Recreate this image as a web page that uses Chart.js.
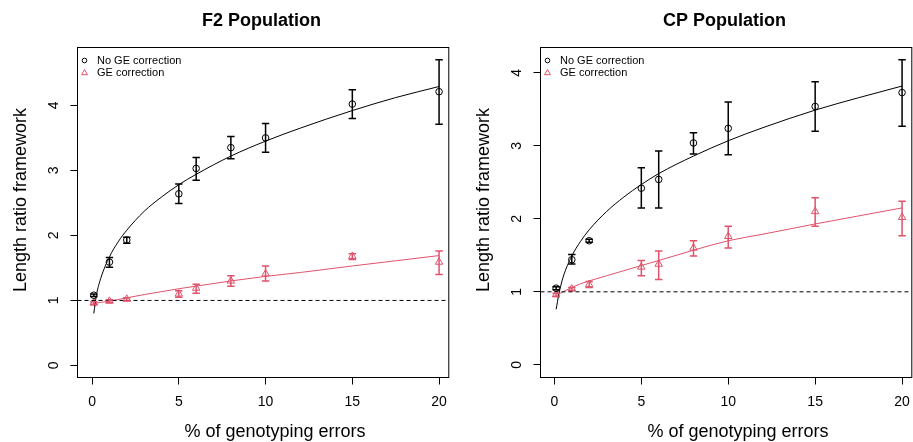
<!DOCTYPE html>
<html>
<head>
<meta charset="utf-8">
<script src="https://cdn.jsdelivr.net/npm/chart.js@4.4.1/dist/chart.umd.min.js"></script>
<style>
  html, body { margin: 0; padding: 0; background: #fff; overflow: hidden; }
  #wrap { position: relative; width: 913px; height: 442px; overflow: hidden; }
  canvas { position: absolute; top: 0; }
</style>
</head>
<body>
<div id="wrap">
  <canvas id="f2Chart" width="456" height="442" style="left:0px"></canvas>
  <canvas id="cpChart" width="456" height="442" style="left:463px"></canvas>
</div>
<script>
// % genotyping errors simulated
const errorRates = [0.1, 1, 2, 5, 6, 8, 10, 15, 20];
const xTicks = [0, 5, 10, 15, 20];
const yTicks = [0, 1, 2, 3, 4];
const refRatio = 1;

// F2 population
const f2NoGE     = [1.08, 1.59, 1.93, 2.64, 3.03, 3.35, 3.50, 4.02, 4.21];
const f2NoGELow  = [1.06, 1.51, 1.88, 2.49, 2.85, 3.18, 3.28, 3.80, 3.71];
const f2NoGEHigh = [1.10, 1.66, 1.97, 2.79, 3.20, 3.52, 3.72, 4.24, 4.70];
const f2GE       = [0.96, 0.99, 1.02, 1.10, 1.19, 1.30, 1.41, 1.68, 1.59];
const f2GELow    = [0.94, 0.97, 1.00, 1.05, 1.11, 1.22, 1.30, 1.63, 1.40];
const f2GEHigh   = [0.98, 1.01, 1.04, 1.15, 1.25, 1.38, 1.53, 1.72, 1.76];

// CP population
const cpNoGE     = [1.05, 1.44, 1.70, 2.42, 2.54, 3.04, 3.24, 3.54, 3.73];
const cpNoGELow  = [1.03, 1.38, 1.68, 2.15, 2.15, 2.89, 2.88, 3.20, 3.27];
const cpNoGEHigh = [1.07, 1.51, 1.72, 2.70, 2.93, 3.18, 3.60, 3.88, 4.18];
const cpGE       = [0.96, 1.04, 1.10, 1.34, 1.38, 1.60, 1.76, 2.10, 2.02];
const cpGELow    = [0.94, 1.02, 1.06, 1.22, 1.17, 1.49, 1.60, 1.90, 1.77];
const cpGEHigh   = [0.98, 1.06, 1.14, 1.43, 1.56, 1.70, 1.90, 2.29, 2.24];

// fitted curves
const curveX       = [0.1, 0.25, 0.5, 1, 1.5, 2, 3, 4, 5, 6, 8, 10, 12, 15, 17.5, 20];
const f2NoGECurve  = [0.80, 1.08, 1.34, 1.67, 1.90, 2.08, 2.37, 2.59, 2.78, 2.94, 3.22, 3.45, 3.65, 3.92, 4.12, 4.29];
const f2GECurve    = [0.95, 0.96, 0.97, 0.99, 1.015, 1.04, 1.09, 1.135, 1.18, 1.22, 1.30, 1.37, 1.43, 1.53, 1.61, 1.69];
const cpNoGECurve  = [0.76, 0.96, 1.20, 1.49, 1.69, 1.85, 2.10, 2.30, 2.47, 2.62, 2.86, 3.07, 3.25, 3.49, 3.66, 3.82];
const cpGECurve    = [0.94, 0.97, 1.00, 1.06, 1.11, 1.15, 1.22, 1.29, 1.36, 1.43, 1.57, 1.70, 1.79, 1.93, 2.04, 2.15];

const rRed = '#DF536B';
const fontFam = '"Liberation Sans", Arial, Helvetica, sans-serif';
Chart.defaults.font.family = fontFam;
Chart.defaults.color = '#000';

const rStyle = {
  id: 'rStyle',
  afterDatasetsDraw(chart, args, opts) {
    const ctx = chart.ctx;
    const xs = chart.scales.x, ys = chart.scales.y;
    const a = chart.chartArea;
    ctx.save();

    // error bars
    chart.data.datasets.forEach(ds => {
      if (!ds.errLow) return;
      ctx.strokeStyle = ds.borderColor;
      ctx.lineWidth = 1.5;
      ds.data.forEach((p, i) => {
        const px = xs.getPixelForValue(p.x);
        const lo = ys.getPixelForValue(ds.errLow[i]);
        const hi = ys.getPixelForValue(ds.errHigh[i]);
        ctx.beginPath();
        ctx.moveTo(px, lo); ctx.lineTo(px, hi);
        ctx.moveTo(px - 3.7, lo); ctx.lineTo(px + 3.7, lo);
        ctx.moveTo(px - 3.7, hi); ctx.lineTo(px + 3.7, hi);
        ctx.stroke();
      });
    });

    // box
    ctx.strokeStyle = '#000';
    ctx.lineWidth = 1;
    ctx.strokeRect(a.left, a.top, a.right - a.left, a.bottom - a.top);

    // y tick labels, rotated like R
    ctx.fillStyle = '#000';
    ctx.font = '14px ' + fontFam;
    ctx.textAlign = 'center';
    ctx.textBaseline = 'middle';
    ys.ticks.forEach(t => {
      ctx.save();
      ctx.translate(a.left - 23.5, ys.getPixelForValue(t.value));
      ctx.rotate(-Math.PI / 2);
      ctx.fillText(String(t.value), 0, 0);
      ctx.restore();
    });

    // main title
    ctx.font = 'bold 18px ' + fontFam;
    ctx.fillText(opts.title, 261.5, 21);

    // axis titles
    ctx.font = '18px ' + fontFam;
    ctx.fillText('% of genotyping errors', 275, 432);
    ctx.save();
    ctx.translate(21.5, 200);
    ctx.rotate(-Math.PI / 2);
    ctx.fillText('Length ratio framework', 0, 0);
    ctx.restore();

    // legend
    const lx = a.left + 7, ly = a.top + 13;
    ctx.lineWidth = 1;
    ctx.strokeStyle = '#000';
    ctx.beginPath();
    ctx.arc(lx, ly, 2.3, 0, Math.PI * 2);
    ctx.stroke();
    ctx.strokeStyle = rRed;
    const ty = ly + 12.5, r = 3.4;
    ctx.beginPath();
    ctx.moveTo(lx, ty - r);
    ctx.lineTo(lx + r * 0.866, ty + r / 2);
    ctx.lineTo(lx - r * 0.866, ty + r / 2);
    ctx.closePath();
    ctx.stroke();
    ctx.font = '11px ' + fontFam;
    ctx.textAlign = 'left';
    ctx.fillText('No GE correction', a.left + 19.5, ly);
    ctx.fillText('GE correction', a.left + 19.5, ty);

    ctx.restore();
  }
};

function toPoints(xs, ys) {
  return xs.map((x, i) => ({x: x, y: ys[i]}));
}

function buildChart(canvasId, title, noGE, noGELow, noGEHigh, ge, geLow, geHigh, noGECurve, geCurve, xMin, xMax, yMin, yMax) {
  const ctx = document.getElementById(canvasId).getContext('2d');
  const axisGrid = {drawOnChartArea: false, drawTicks: true, tickLength: 7, tickColor: '#000', tickWidth: 1};
  return new Chart(ctx, {
    type: 'scatter',
    data: {
      datasets: [
        {
          label: 'reference',
          data: [{x: xMin, y: refRatio}, {x: xMax, y: refRatio}],
          showLine: true, borderColor: '#000', borderWidth: 1, borderDash: [4, 3],
          pointRadius: 0
        },
        {
          label: 'No GE fit',
          data: toPoints(curveX, noGECurve),
          showLine: true, borderColor: '#000', borderWidth: 1,
          cubicInterpolationMode: 'monotone', pointRadius: 0
        },
        {
          label: 'GE fit',
          data: toPoints(curveX, geCurve),
          showLine: true, borderColor: rRed, borderWidth: 1,
          cubicInterpolationMode: 'monotone', pointRadius: 0
        },
        {
          label: 'No GE correction',
          data: toPoints(errorRates, noGE),
          errLow: noGELow, errHigh: noGEHigh,
          borderColor: '#000', backgroundColor: 'rgba(0,0,0,0)',
          pointStyle: 'circle', pointRadius: 3.3, borderWidth: 1
        },
        {
          label: 'GE correction',
          data: toPoints(errorRates, ge),
          errLow: geLow, errHigh: geHigh,
          borderColor: rRed, backgroundColor: 'rgba(0,0,0,0)',
          pointStyle: 'triangle', pointRadius: 4.3, borderWidth: 1
        }
      ]
    },
    options: {
      responsive: false,
      animation: false,
      layout: {padding: {left: 0, right: 5.5, top: 47.5, bottom: 0}},
      plugins: {
        legend: {display: false},
        tooltip: {enabled: false},
        rStyle: {title: title}
      },
      scales: {
        x: {
          type: 'linear', min: xMin, max: xMax,
          afterBuildTicks: s => { s.ticks = xTicks.map(v => ({value: v})); },
          afterFit: s => { s.height = 64.5; },
          grid: axisGrid,
          border: {display: false},
          ticks: {color: '#000', font: {size: 14}, padding: 9, maxRotation: 0, autoSkip: false}
        },
        y: {
          type: 'linear', min: yMin, max: yMax,
          afterBuildTicks: s => { s.ticks = yTicks.map(v => ({value: v})); },
          afterFit: s => { s.width = 77.5; },
          grid: axisGrid,
          border: {display: false},
          ticks: {display: false}
        }
      }
    },
    plugins: [rStyle]
  });
}

buildChart('f2Chart', 'F2 Population',
  f2NoGE, f2NoGELow, f2NoGEHigh, f2GE, f2GELow, f2GEHigh,
  f2NoGECurve, f2GECurve, -0.84, 20.56, -0.185, 4.89);

buildChart('cpChart', 'CP Population',
  cpNoGE, cpNoGELow, cpNoGEHigh, cpGE, cpGELow, cpGEHigh,
  cpNoGECurve, cpGECurve, -0.80, 20.56, -0.174, 4.348);
</script>
</body>
</html>
